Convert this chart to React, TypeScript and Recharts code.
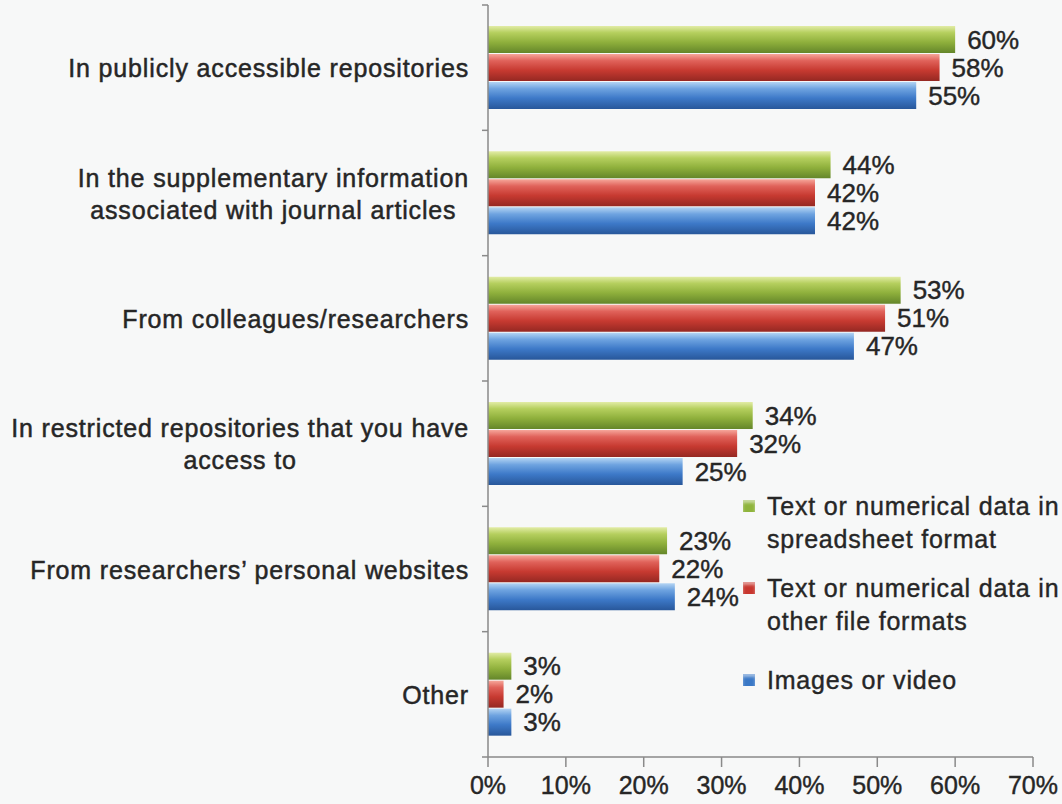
import React from "react";
import { BarChart, Bar, XAxis, YAxis, LabelList } from "recharts";

const categoryLines: string[][] = [
  ["In publicly accessible repositories"],
  ["In the supplementary information", "associated with journal articles"],
  ["From colleagues/researchers"],
  ["In restricted repositories that you have", "access to"],
  ["From researchers\u2019 personal websites"],
  ["Other"],
];
const spreadsheetValues = [60, 44, 53, 34, 23, 3];
const otherFormatValues = [58, 42, 51, 32, 22, 2];
const imageValues = [55, 42, 47, 25, 24, 3];
const xTicks = [0, 10, 20, 30, 40, 50, 60, 70];

const seriesNames = [
  "Text or numerical data in spreadsheet format",
  "Text or numerical data in other file formats",
  "Images or video",
];
const legendLines = [
  ["Text or numerical data in", "spreadsheet format"],
  ["Text or numerical data in", "other file formats"],
  ["Images or video"],
];

const data = categoryLines.map((lines, i) => ({
  category: lines.join(" "),
  spreadsheet: spreadsheetValues[i],
  other: otherFormatValues[i],
  images: imageValues[i],
}));

const FONT = '"Liberation Sans", Arial, sans-serif';
const TEXT = "#262626";
const CAT_SIZE = 25;
const CAT_SPACING = 0.85;

let ctx: CanvasRenderingContext2D | null = null;
function measure(s: string): number {
  if (!ctx) {
    const c = document.createElement("canvas");
    ctx = c.getContext("2d");
  }
  if (!ctx) return s.length * CAT_SIZE * 0.5;
  ctx.font = `${CAT_SIZE}px "Liberation Sans", Arial, sans-serif`;
  return ctx.measureText(s).width + CAT_SPACING * s.length;
}

const CategoryTick = (props: any) => {
  const { x, y, payload, index, visibleTicksCount } = props;
  const lines = categoryLines[index] || [String(payload.value)];
  const half = payload && payload.offset ? payload.offset : 63;
  const axisX = x + 19;
  const lineH = 32;
  const widths = lines.map(measure);
  const maxW = Math.max(...widths);
  const multi = lines.length > 1;
  const cx = multi ? x - maxW / 2 : x;
  const startY = y - ((lines.length - 1) * lineH) / 2;
  return (
    <g>
      <line x1={axisX - 6} x2={axisX} y1={y - half} y2={y - half} stroke="#8a8a8a" strokeWidth={1.5} />
      {index === visibleTicksCount - 1 && (
        <line x1={axisX - 6} x2={axisX} y1={y + half} y2={y + half} stroke="#8a8a8a" strokeWidth={1.5} />
      )}
      {lines.map((l, i) => (
        <text
          key={i}
          x={cx}
          y={startY + i * lineH}
          dy="0.38em"
          textAnchor={multi ? "middle" : "end"}
          fontSize={CAT_SIZE}
          fontFamily={FONT}
          letterSpacing={CAT_SPACING}
          fill={TEXT}
          stroke={TEXT}
          strokeWidth={0.5}
        >
          {l}
        </text>
      ))}
    </g>
  );
};

const squareColors = ["#8fb43c", "#c8372f", "#3a78c6"];
const legendGaps = [16, 26, 0];

const LegendBox = () => (
  <div
    style={{
      position: "absolute",
      left: 743,
      top: 490,
      width: 320,
      fontFamily: FONT,
      fontSize: 25,
      color: TEXT,
      letterSpacing: 0.8,
      WebkitTextStroke: "0.4px #262626",
    }}
  >
    {legendLines.map((lines, i) => (
      <div key={i} style={{ display: "flex", alignItems: "flex-start", marginBottom: legendGaps[i] }}>
        <div
          style={{
            width: 12,
            height: 12,
            marginTop: 10,
            marginRight: 12,
            background: squareColors[i],
            boxShadow: "inset 0 3px 3px rgba(255,255,255,0.5)",
            flex: "none",
          }}
          title={seriesNames[i]}
        />
        <div>
          {lines.map((l, j) => (
            <div key={j} style={{ lineHeight: "33px", whiteSpace: "nowrap" }}>
              {l}
            </div>
          ))}
        </div>
      </div>
    ))}
  </div>
);

const pct = (v: any) => `${v}%`;
const labelStyle = { fontSize: 26, fontFamily: FONT, fill: TEXT, stroke: TEXT, strokeWidth: 0.4 };

export default function App() {
  return (
    <div
      style={{
        position: "absolute",
        left: 0,
        top: 0,
        width: 1062,
        height: 804,
        background: "#f7f8f8",
        overflow: "hidden",
      }}
    >
      <BarChart
        width={1062}
        height={804}
        data={data}
        layout="vertical"
        margin={{ top: 5, right: 29, bottom: 7, left: 0 }}
        barSize={27}
        barGap={1}
        barCategoryGap={21}
      >
        <defs>
          <linearGradient id="gGreen" x1="0" y1="0" x2="0" y2="1">
            <stop offset="0%" stopColor="#e2eca6" />
            <stop offset="25%" stopColor="#b5cf5e" />
            <stop offset="60%" stopColor="#8fb03c" />
            <stop offset="100%" stopColor="#64862a" />
          </linearGradient>
          <linearGradient id="gRed" x1="0" y1="0" x2="0" y2="1">
            <stop offset="0%" stopColor="#f6a69a" />
            <stop offset="25%" stopColor="#e0625a" />
            <stop offset="60%" stopColor="#c73a31" />
            <stop offset="100%" stopColor="#952822" />
          </linearGradient>
          <linearGradient id="gBlue" x1="0" y1="0" x2="0" y2="1">
            <stop offset="0%" stopColor="#b3d4f3" />
            <stop offset="25%" stopColor="#6ea3e0" />
            <stop offset="60%" stopColor="#3d79c8" />
            <stop offset="100%" stopColor="#28579a" />
          </linearGradient>
        </defs>
        <XAxis
          type="number"
          domain={[0, 70]}
          ticks={xTicks}
          interval={0}
          tickFormatter={pct}
          axisLine={{ stroke: "#8a8a8a", strokeWidth: 1.5 }}
          tickLine={{ stroke: "#8a8a8a", strokeWidth: 1.5 }}
          tickSize={10}
          tickMargin={9}
          height={40}
          tick={{ fontSize: 25, fontFamily: FONT, fill: TEXT, stroke: TEXT, strokeWidth: 0.4 }}
        />
        <YAxis
          type="category"
          dataKey="category"
          width={488}
          axisLine={{ stroke: "#8a8a8a", strokeWidth: 1.5 }}
          tickLine={false}
          tickSize={0}
          tickMargin={19}
          interval={0}
          tick={<CategoryTick />}
        />
        <Bar dataKey="spreadsheet" name={seriesNames[0]} fill="url(#gGreen)" isAnimationActive={false}>
          <LabelList dataKey="spreadsheet" position="right" offset={12} formatter={pct} style={labelStyle} />
        </Bar>
        <Bar dataKey="other" name={seriesNames[1]} fill="url(#gRed)" isAnimationActive={false}>
          <LabelList dataKey="other" position="right" offset={12} formatter={pct} style={labelStyle} />
        </Bar>
        <Bar dataKey="images" name={seriesNames[2]} fill="url(#gBlue)" isAnimationActive={false}>
          <LabelList dataKey="images" position="right" offset={12} formatter={pct} style={labelStyle} />
        </Bar>
      </BarChart>
      <LegendBox />
    </div>
  );
}
